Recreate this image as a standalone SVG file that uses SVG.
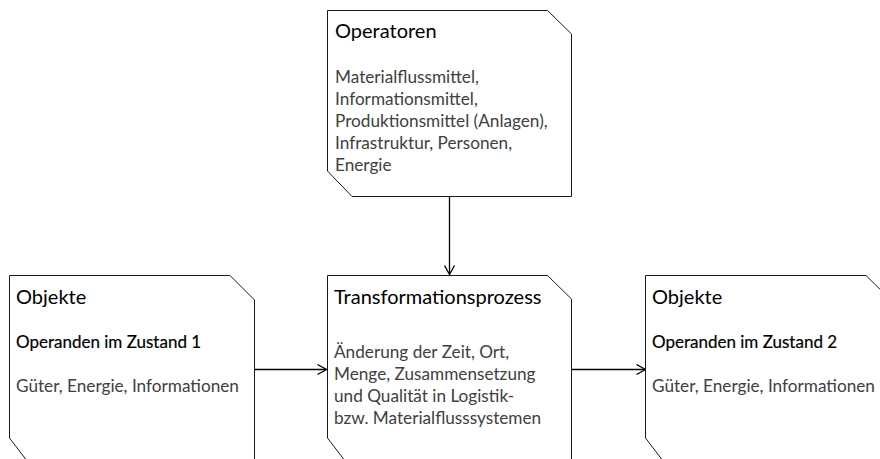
<svg xmlns="http://www.w3.org/2000/svg" width="880" height="459" viewBox="0 0 880 459">
  <defs>
    <style>
      .box { fill: #ffffff; stroke: #1a1a1a; stroke-width: 1; }
      .conn { fill: none; stroke: #000000; stroke-width: 1.3; }
      .head { fill: none; stroke: #000000; stroke-width: 1.3; stroke-linejoin: miter; }
      text { font-family: Lato, "Open Sans", "Liberation Sans", sans-serif; }
      .title { font-size: 20px; fill: #000000; }
      .sub { font-size: 17px; fill: #000000; stroke: #000000; stroke-width: 0.2; }
      .body { font-size: 17.2px; fill: #404040; }
    </style>
    <marker id="arrow" markerWidth="12" markerHeight="12" refX="10" refY="6" orient="auto" markerUnits="userSpaceOnUse">
      <path class="head" d="M1,1 L10,6 L1,11"/>
    </marker>
  </defs>
  <rect width="880" height="459" fill="#ffffff"/>

  <!-- connectors -->
  <g id="connectors">
    <line class="conn" x1="449.5" y1="196" x2="449.5" y2="274.5" marker-end="url(#arrow)"/>
    <line class="conn" x1="254" y1="369.5" x2="326.5" y2="369.5" marker-end="url(#arrow)"/>
    <line class="conn" x1="571" y1="369.5" x2="645.5" y2="369.5" marker-end="url(#arrow)"/>
  </g>

  <!-- operators -->
  <g id="operatoren">
    <path class="box" d="M327.5,10.5 H547.5 L571.5,34 V196.5 H352 L327.5,171 Z"/>
    <text class="title" x="335" y="38">Operatoren</text>
    <text class="body" x="335" y="83">Materialflussmittel,</text>
    <text class="body" x="335" y="105">Informationsmittel,</text>
    <text class="body" x="335" y="127">Produktionsmittel (Anlagen),</text>
    <text class="body" x="335" y="149">Infrastruktur, Personen,</text>
    <text class="body" x="335" y="171">Energie</text>
  </g>

  <!-- input objects -->
  <g id="objekte-zustand-1">
    <path class="box" d="M9.5,275.5 H230 L254.5,300 V470 H34 L9.5,438 Z"/>
    <text class="title" x="16" y="304">Objekte</text>
    <text class="sub" x="16" y="348">Operanden im Zustand 1</text>
    <text class="body" x="16" y="392">Güter, Energie, Informationen</text>
  </g>

  <!-- transformation process -->
  <g id="transformationsprozess">
    <path class="box" d="M327.5,275.5 H547.5 L571.5,299 V470 H352 L327.5,438 Z"/>
    <text class="title" x="334" y="304">Transformationsprozess</text>
    <text class="body" x="334" y="358">Änderung der Zeit, Ort,</text>
    <text class="body" x="334" y="380">Menge, Zusammensetzung</text>
    <text class="body" x="334" y="402">und Qualität in Logistik-</text>
    <text class="body" x="334" y="424">bzw. Materialflusssystemen</text>
  </g>

  <!-- output objects -->
  <g id="objekte-zustand-2">
    <path class="box" d="M645.5,275.5 H866 L890,299 V470 H670 L645.5,438 Z"/>
    <text class="title" x="652" y="304">Objekte</text>
    <text class="sub" x="652" y="348">Operanden im Zustand 2</text>
    <text class="body" x="652" y="392">Güter, Energie, Informationen</text>
  </g>
</svg>
